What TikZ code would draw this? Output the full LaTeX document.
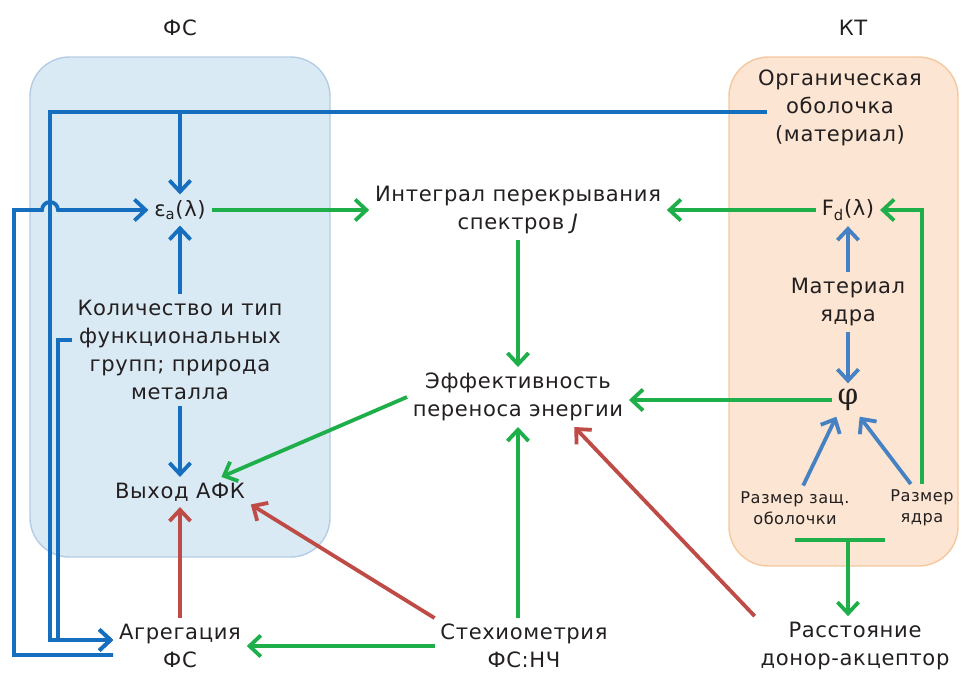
\documentclass[tikz,border=0pt]{standalone}
\usepackage{fontspec}
\setmainfont[LetterSpace=3]{DejaVu Sans}
\newfontfamily\symfont{DejaVu Serif}
\usepackage{xcolor}
\definecolor{Ink}{HTML}{231F20}
\definecolor{FSFill}{HTML}{DAEAF4}
\definecolor{FSEdge}{HTML}{B4CDE4}
\definecolor{KTFill}{HTML}{FCE5D2}
\definecolor{KTEdge}{HTML}{F5C8A0}
\definecolor{FSBlue}{HTML}{166EBE}
\definecolor{KTBlue}{HTML}{4682C3}
\definecolor{Green}{HTML}{1EAF4B}
\definecolor{Red}{HTML}{BE4B46}
\usetikzlibrary{arrows.meta,positioning}

\begin{document}
\begin{tikzpicture}[
  x=0.025cm,y=-0.025cm,
  lbl/.style={font=\fontsize{15}{20}\selectfont,align=center,text=Ink,inner sep=4pt},
  small/.style={font=\fontsize{11.5}{15}\selectfont,align=center,text=Ink,inner sep=4pt},
  line/.style={line width=2.7pt},
  arrow/.style={line,-{Straight Barb[length=8pt,width=15pt]}},
  fs/.style={draw=FSBlue},
  kt/.style={draw=KTBlue},
  gr/.style={draw=Green},
  rd/.style={draw=Red}
]
  \useasboundingbox (0,0) rectangle (962,673);
  % panels
  \draw[fill=FSFill,draw=FSEdge,line width=1pt,rounded corners=28pt] (30,57) rectangle (330,557);
  \draw[fill=KTFill,draw=KTEdge,line width=1pt,rounded corners=28pt] (729,57) rectangle (958,566);

  \node[lbl] (fs) at (180,28) {ФС};
  \node[lbl] (kt) at (853,28) {КТ};
  \node[lbl] (eps) at (180,210) {ε\textsubscript{a}(λ)};
  \node[lbl] (kol) at (180,350) {Количество и тип\\функциональных\\групп; природа\\металла};
  \node[lbl] (vyh) at (180,492) {Выход АФК};
  \node[lbl] (agr) at (180,646) {Агрегация\\ФС};
  \node[lbl] (integ) at (518,210) {Интеграл перекрывания\\спектров \textit{J}};
  \node[lbl] (eff) at (518,397) {Эффективность\\переноса энергии};
  \node[lbl] (steh) at (524,646) {Стехиометрия\\ФС:НЧ};
  \node[lbl] (rass) at (855,646) {Расстояние\\донор-акцептор};
  \node[lbl] (org) at (840,108) {Органическая\\оболочка\\(материал)};
  \node[lbl] (fd) at (848,210) {F\textsubscript{d}(λ)};
  \node[lbl] (mat) at (848,302) {Материал\\ядра};
  \node[lbl,font=\symfont\fontsize{21}{24}\selectfont] (phi) at (848,400) {φ};
  \node[small] (rzo) at (795,508) {Размер защ.\\оболочки};
  \node[small] (rzy) at (922,508) {Размер\\ядра};

  \coordinate (orgin) at (767,112);
  \coordinate (tl) at (795,540);
  \coordinate (tr) at (rzy.south west |- tl);

  % blue, photosensitizer side
  \draw[arrow,fs] (orgin) -- (50,112) -- (50,640) -- (agr.west |- 0,640);
  \draw[arrow,fs] (eps.north |- orgin) -- (eps.north);
  \draw[arrow,fs] (kol.west |- 0,340) -- (58,340) -- (58,640) -- (agr.west |- 0,640);
  \draw[arrow,fs] (agr.west |- 0,655) -- (14,655) -- (14,210) -- (42,210)
    arc (180:360:8) -- (eps.west);
  \draw[arrow,fs] (kol) -- (eps);
  \draw[arrow,fs] (kol) -- (vyh);

  % blue, quantum dot side
  \draw[arrow,kt] (mat) -- (fd);
  \draw[arrow,kt] (mat) -- (phi);
  \draw[arrow,kt] (rzo.70) -- (phi.-125);
  \draw[arrow,kt] (rzy.115) -- (phi.-55);

  % green
  \draw[arrow,gr] (eps.east) -- (integ.west |- eps);
  \draw[arrow,gr] (fd.west) -- (integ.east |- fd);
  \draw[arrow,gr] (integ) -- (eff);
  \draw[arrow,gr] (phi.west) -- (eff.east |- phi);
  \draw[arrow,gr] (eff.west) -- (vyh.20);
  \draw[arrow,gr] (eff.south |- steh.north) -- (eff.south);
  \draw[arrow,gr] (steh.west) -- (agr.east |- steh.west);
  \draw[arrow,gr] (rzy.north) |- (fd.east);
  \draw[line,gr] (tl) -- (tr);
  \draw[arrow,gr] (fd |- tl) -- (fd |- rass.north);

  % red
  \draw[arrow,rd] (agr) -- (vyh);
  \draw[arrow,rd] (steh.north west) -- (vyh.-10);
  \draw[arrow,rd] (rass.north west) -- (eff.-28);
\end{tikzpicture}
\end{document}
